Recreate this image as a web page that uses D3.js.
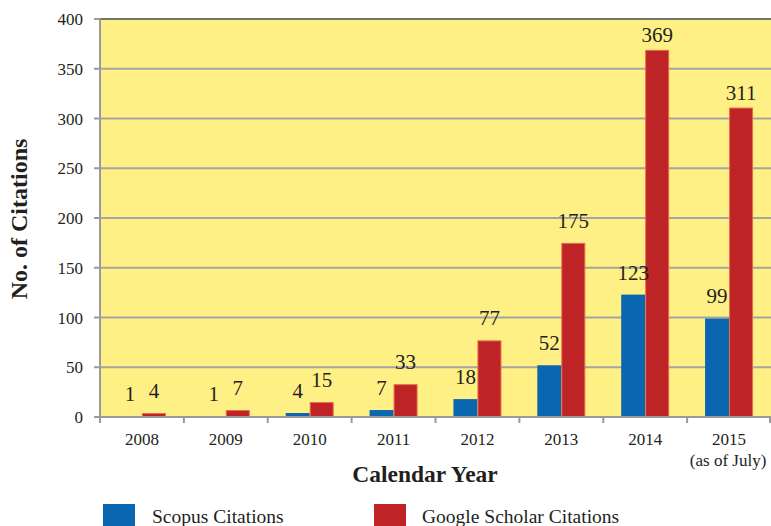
<!DOCTYPE html>
<html>
<head>
<meta charset="utf-8">
<script src="https://cdn.jsdelivr.net/npm/d3@7"></script>
<style>
	body { margin: 0; background: #fff; }
	svg { display: block; font-family: 'Liberation Serif', 'Times New Roman', serif; }
</style>
</head>
<body>
<svg id="chart"></svg>
<script>
const years = ['2008', '2009', '2010', '2011', '2012', '2013', '2014', '2015'];
const scopus = [1, 1, 4, 7, 18, 52, 123, 99];
const scholar = [4, 7, 15, 33, 77, 175, 369, 311];
const yTicks = [0, 50, 100, 150, 200, 250, 300, 350, 400];
const seriesNames = ['Scopus Citations', 'Google Scholar Citations'];

const colors = { blue: '#0b66b0', red: '#be2326', redEdge: '#e96a4c', yellow: '#fef084', grid: '#a4a4a4', axis: '#9a9a9a' };

const W = 771, H = 526;
const plotLeft = 100, plotTop = 19, plotRight = 771, plotBottom = 417;

const svg = d3.select('#chart').attr('width', W).attr('height', H);

const x = d3.scaleBand().domain(years).range([plotLeft, plotRight]);
const y = d3.scaleLinear().domain([0, 400]).range([plotBottom, plotTop]);
const barW = 24;

// plot background
svg.append('rect')
	.attr('x', plotLeft).attr('y', plotTop)
	.attr('width', plotRight - plotLeft).attr('height', plotBottom - plotTop)
	.attr('fill', colors.yellow);

// grid
svg.append('g').selectAll('line').data(yTicks.filter(d => d > 0 && d < 400))
	.join('line')
	.attr('x1', plotLeft).attr('x2', plotRight)
	.attr('y1', d => y(d)).attr('y2', d => y(d))
	.attr('stroke', colors.grid).attr('stroke-width', 2);

// top border
svg.append('line')
	.attr('x1', plotLeft).attr('x2', plotRight).attr('y1', plotTop).attr('y2', plotTop)
	.attr('stroke', '#4a4a4a').attr('stroke-width', 1.5);

// bars
const groups = svg.append('g').selectAll('g').data(years).join('g');
groups.append('rect')
	.attr('x', d => x(d) + x.bandwidth() / 2 - barW)
	.attr('y', (d, i) => y(scopus[i]))
	.attr('width', barW)
	.attr('height', (d, i) => plotBottom - y(scopus[i]))
	.attr('fill', colors.blue);
groups.append('rect')
	.attr('x', d => x(d) + x.bandwidth() / 2 + 0.5)
	.attr('y', (d, i) => y(scholar[i]) + 0.5)
	.attr('width', barW - 1)
	.attr('height', (d, i) => Math.max(0, plotBottom - y(scholar[i]) - 0.5))
	.attr('fill', colors.red)
	.attr('stroke', colors.redEdge).attr('stroke-width', 1);

// value labels
const labelGap = v => v > 300 ? 8 : 15;
groups.append('text')
	.attr('x', d => x(d) + x.bandwidth() / 2 - barW / 2)
	.attr('y', (d, i) => y(scopus[i]) - labelGap(scopus[i]))
	.attr('text-anchor', 'middle')
	.attr('font-size', 21).attr('fill', '#231f20')
	.text((d, i) => scopus[i]);
groups.append('text')
	.attr('x', d => x(d) + x.bandwidth() / 2 + barW / 2)
	.attr('y', (d, i) => y(scholar[i]) - labelGap(scholar[i]))
	.attr('text-anchor', 'middle')
	.attr('font-size', 21).attr('fill', '#231f20')
	.text((d, i) => scholar[i]);

// y axis
const yAxis = svg.append('g');
yAxis.append('line')
	.attr('x1', plotLeft).attr('x2', plotLeft).attr('y1', plotTop).attr('y2', plotBottom + 6)
	.attr('stroke', colors.axis).attr('stroke-width', 2);
yAxis.selectAll('line.tick').data(yTicks).join('line')
	.attr('class', 'tick')
	.attr('x1', plotLeft - 6).attr('x2', plotLeft)
	.attr('y1', d => y(d)).attr('y2', d => y(d))
	.attr('stroke', colors.axis).attr('stroke-width', 2);
yAxis.selectAll('text').data(yTicks).join('text')
	.attr('x', plotLeft - 17).attr('y', d => y(d) + 6)
	.attr('text-anchor', 'end')
	.attr('font-size', 17).attr('fill', '#231f20')
	.text(d => d);

// x axis
const xAxis = svg.append('g');
xAxis.append('line')
	.attr('x1', plotLeft).attr('x2', plotRight).attr('y1', plotBottom).attr('y2', plotBottom)
	.attr('stroke', colors.axis).attr('stroke-width', 2);
xAxis.selectAll('line.tick').data(years.slice(1).concat(['end'])).join('line')
	.attr('class', 'tick')
	.attr('x1', d => d === 'end' ? plotRight - 1 : x(d))
	.attr('x2', d => d === 'end' ? plotRight - 1 : x(d))
	.attr('y1', plotBottom).attr('y2', plotBottom + 6)
	.attr('stroke', colors.axis).attr('stroke-width', 2);
xAxis.selectAll('text.year').data(years).join('text')
	.attr('class', 'year')
	.attr('x', d => x(d) + x.bandwidth() / 2).attr('y', 445)
	.attr('text-anchor', 'middle')
	.attr('font-size', 17).attr('fill', '#231f20')
	.text(d => d);
xAxis.append('text')
	.attr('x', x('2015') + x.bandwidth() / 2 - 1).attr('y', 466)
	.attr('text-anchor', 'middle')
	.attr('font-size', 17).attr('fill', '#231f20')
	.text('(as of July)');

// axis titles
svg.append('text')
	.attr('x', 425).attr('y', 482)
	.attr('text-anchor', 'middle')
	.attr('font-size', 23.5).attr('font-weight', 'bold').attr('fill', '#231f20')
	.text('Calendar Year');
svg.append('text')
	.attr('transform', 'translate(27,219) rotate(-90)')
	.attr('text-anchor', 'middle')
	.attr('font-size', 24).attr('font-weight', 'bold').attr('fill', '#231f20')
	.text('No. of Citations');

// legend
const legendX = [103, 374];
const legend = svg.append('g').selectAll('g').data(seriesNames).join('g')
	.attr('transform', (d, i) => `translate(${legendX[i]},504)`);
legend.append('rect')
	.attr('width', 32).attr('height', 24)
	.attr('fill', (d, i) => i === 0 ? colors.blue : colors.red);
legend.append('text')
	.attr('x', (d, i) => i === 0 ? 49 : 48).attr('y', 19)
	.attr('font-size', 19.5).attr('fill', '#231f20')
	.text(d => d);
</script>
</body>
</html>
